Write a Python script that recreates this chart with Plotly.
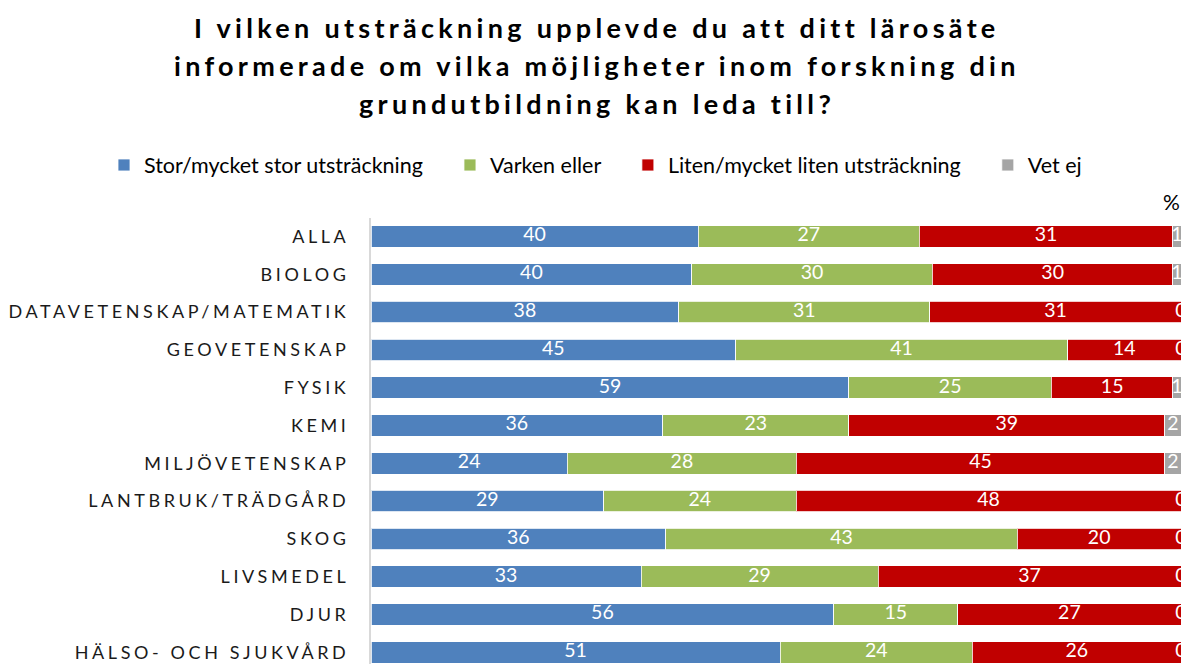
import plotly.graph_objects as go

categories = ["ALLA", "BIOLOG", "DATAVETENSKAP/MATEMATIK", "GEOVETENSKAP", "FYSIK", "KEMI",
              "MILJÖVETENSKAP", "LANTBRUK/TRÄDGÅRD", "SKOG", "LIVSMEDEL", "DJUR",
              "HÄLSO- OCH SJUKVÅRD"]
stor = [40, 40, 38, 45, 59, 36, 24, 29, 36, 33, 56, 51]
varken = [27, 30, 31, 41, 25, 23, 28, 24, 43, 29, 15, 24]
liten = [31, 30, 31, 14, 15, 39, 45, 48, 20, 37, 27, 26]
vetej = [1, 1, 0, 0, 1, 2, 2, 0, 0, 0, 0, 0]

series_names = ["Stor/mycket stor utsträckning", "Varken eller",
                "Liten/mycket liten utsträckning", "Vet ej"]
colors = ["#4F81BD", "#9BBB59", "#C00000", "#A5A5A5"]

title_lines = ["I vilken utsträckning upplevde du att ditt lärosäte",
               "informerade om vilka möjligheter inom forskning din",
               "grundutbildning kan leda till?"]

FONT = "Lato"
W, H = 1183, 664
PL, PR, PT, PB = 371, 1181, 218, 664          # plot area in pixels
ML, MT, MR, MB = PL, PT, W - PR, H - PB
PH = PB - PT
PW = PR - PL

def ypaper(px):
    return (PB - px) / PH

def xpaper(px):
    return (px - PL) / PW

series = [stor, varken, liten, vetej]
fig = go.Figure()
pad = "\u00a0" * 4
for name, vals, col in zip(series_names, series, colors):
    is_last = name == "Vet ej"
    fig.add_trace(go.Bar(
        y=categories, x=vals, name=name + ("" if is_last else pad), orientation="h",
        marker=dict(color=col, line=dict(color="rgba(255,255,255,0.8)", width=1)),
        textposition="none", hoverinfo="skip",
    ))

# value labels, centred on each (100%-normalised) segment
totals = [sum(vs) for vs in zip(*series)]
cum = [0] * len(categories)
for vals in series:
    mids = [(c + v / 2) / t * 100 for c, v, t in zip(cum, vals, totals)]
    fig.add_trace(go.Scatter(
        x=mids, y=categories, mode="text", text=[str(v) for v in vals],
        textposition="middle center",
        textfont=dict(color="white", size=19.5, family=FONT),
        showlegend=False, cliponaxis=False, hoverinfo="skip",
    ))
    cum = [c + v for c, v in zip(cum, vals)]

annotations = []
for i, line in enumerate(title_lines):
    annotations.append(dict(
        text='<span style="letter-spacing:4.3px">' + line + '</span>',
        xref="paper", yref="paper", x=xpaper(597), y=ypaper(27.5 + 38 * i),
        xanchor="center", yanchor="middle", showarrow=False,
        font=dict(family=FONT, size=27, color="#000000", weight="bold"),
    ))
annotations.append(dict(
    text="%", xref="paper", yref="paper", x=xpaper(1171), y=ypaper(201),
    xanchor="center", yanchor="middle", showarrow=False,
    font=dict(family=FONT, size=21, color="#000000"),
))

fig.update_layout(
    width=W, height=H,
    margin=dict(l=ML, r=MR, t=MT, b=MB, autoexpand=False),
    barmode="stack", barnorm="percent", bargap=0.43,
    plot_bgcolor="white", paper_bgcolor="white",
    font=dict(family=FONT, color="#000000"),
    legend=dict(orientation="h", x=xpaper(104), y=ypaper(165), xanchor="left",
                yanchor="middle", font=dict(size=21.5, family=FONT, color="#000000"),
                traceorder="normal", itemclick=False, itemdoubleclick=False),
    annotations=annotations,
    showlegend=True,
    hovermode=False,
)
fig.update_xaxes(range=[0, 100], visible=False, showgrid=False, zeroline=False)
fig.update_yaxes(
    categoryorder="array", categoryarray=categories,
    range=[11.31, -0.49], showgrid=False, zeroline=False,
    showline=True, linecolor="#D9D9D9", linewidth=2,
    ticks="", ticklabelstandoff=16,
    tickmode="array", tickvals=categories,
    ticktext=['<span style="letter-spacing:3.6px">' + c + '</span>' for c in categories],
    tickfont=dict(family=FONT, size=18, color="#1a1a1a"),
    automargin=False,
)
fig.write_html("out.html", config={"displayModeBar": False},
               post_script="document.body.style.margin='0';document.body.style.overflow='hidden';")
